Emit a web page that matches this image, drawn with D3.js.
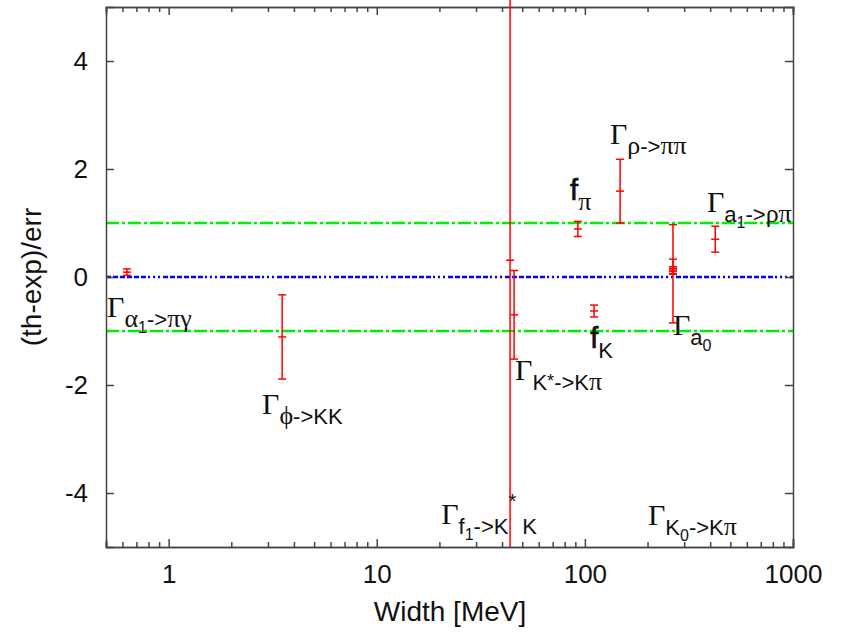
<!DOCTYPE html>
<html>
<head>
<meta charset="utf-8">
<script src="https://cdn.jsdelivr.net/npm/d3@7"></script>
<style>
  body { margin: 0; background: #fff; }
  svg { display: block; }
  .axis path, .axis line { stroke: #444; stroke-width: 1.5; }
  .axis text { font-family: "Liberation Sans", Arial, sans-serif; font-size: 26px; fill: #111; }
  .title { font-family: "Liberation Sans", Arial, sans-serif; font-size: 28px; fill: #111; }
  .note { white-space: pre; fill: #111; }
</style>
</head>
<body>
<svg id="chart"></svg>
<script>
// measurements: width [MeV] vs (th-exp)/err
const pointNames = ["a1->pi gamma", "phi->KK", "f1->K*K", "K*->K pi", "f_pi", "f_K", "rho->pi pi", "a0", "a0", "a0", "a1->rho pi"];
const widthMeV = [0.63, 3.51, 43.7, 45.7, 92.5, 110.7, 147.6, 265, 265, 265, 423];
const deviation = [0.09, -1.11, 0.31, -0.70, 0.89, -0.63, 1.59, 0.06, 0.19, 0.13, 0.70];
const errorSize = [0.06, 0.78, 12, 0.82, 0.14, 0.11, 0.59, 0.91, 0.14, 0.03, 0.24];

// reference lines
const bandLevels = [1, -1];
const zeroLevel = 0;

// annotations (gnuplot-style enhanced text) at data coordinates
const labelText = ["Γ_{α_{1}->πγ}", "Γ_{ϕ->KK}", "Γ_{f_{1}->K}^{*}_{ K}", "Γ_{K^{*}->Kπ}", "f_{π}", "f_{K}",
                   "Γ_{ρ->ππ}", "Γ_{a_{0}}", "Γ_{a_{1}->ρπ}", "Γ_{K_{0}->Kπ}"];
const labelX = [0.506, 2.81, 20.4, 46.2, 84.9, 106, 132, 265, 386, 201];
const labelY = [-0.74, -2.54, -4.57, -1.91, 1.43, -1.31, 2.46, -1.07, 1.20, -4.59];

const xTicks = [1, 10, 100, 1000];
const yTicks = [-4, -2, 0, 2, 4];

const W = 843, H = 635;
const mLeft = 106, mRight = 793, mTop = 7, mBottom = 547;

const svg = d3.select("#chart").attr("width", W).attr("height", H);

const x = d3.scaleLog().domain([0.5, 1000]).range([mLeft, mRight]);
const y = d3.scaleLinear().domain([-5, 5]).range([mBottom, mTop]);

const minorTicks = [];
[0.1, 1, 10, 100].forEach(d => {
  for (let k = 2; k <= 9; k++) {
    const v = d * k;
    if (v >= 0.5 && v <= 1000) minorTicks.push(v);
  }
});

svg.append("defs").append("clipPath").attr("id", "clip")
  .append("rect").attr("x", mLeft).attr("y", 0).attr("width", mRight - mLeft).attr("height", mBottom);

// reference lines
const lines = svg.append("g").attr("clip-path", "url(#clip)");
lines.selectAll(".band").data(bandLevels).enter().append("line")
  .attr("x1", mLeft).attr("x2", mRight)
  .attr("y1", d => y(d)).attr("y2", d => y(d))
  .attr("stroke", "#00ee00").attr("stroke-width", 2.5)
  .attr("stroke-dasharray", "13,3,3,3");
lines.append("line")
  .attr("x1", mLeft).attr("x2", mRight)
  .attr("y1", y(zeroLevel)).attr("y2", y(zeroLevel))
  .attr("stroke", "#0000ff").attr("stroke-width", 2.5)
  .attr("stroke-dasharray", "5,2,5,2,5,2,5,2,5,2,5,2,2,3,2,3,2,3");

// axes
svg.append("g").attr("class", "axis")
  .attr("transform", `translate(0,${mBottom})`)
  .call(d3.axisBottom(x).tickValues(xTicks).tickFormat(d => String(d)).tickSize(-8).tickPadding(18));
svg.append("g").attr("class", "axis")
  .attr("transform", `translate(0,${mBottom})`)
  .call(d3.axisBottom(x).tickValues(minorTicks).tickFormat("").tickSize(-5));
svg.append("g").attr("class", "axis")
  .attr("transform", `translate(0,${mTop})`)
  .call(d3.axisTop(x).tickValues(xTicks).tickFormat("").tickSize(-8));
svg.append("g").attr("class", "axis")
  .attr("transform", `translate(0,${mTop})`)
  .call(d3.axisTop(x).tickValues(minorTicks).tickFormat("").tickSize(-5));
svg.append("g").attr("class", "axis")
  .attr("transform", `translate(${mLeft},0)`)
  .call(d3.axisLeft(y).tickValues(yTicks).tickFormat(d => String(d)).tickSize(-8).tickPadding(18));
svg.append("g").attr("class", "axis")
  .attr("transform", `translate(${mRight},0)`)
  .call(d3.axisRight(y).tickValues(yTicks).tickFormat("").tickSize(-8));
svg.selectAll(".axis .domain").attr("stroke", "#444").attr("stroke-width", 1.5);

// error bars
const bars = svg.append("g").attr("clip-path", "url(#clip)")
  .attr("stroke", "#ff0000").attr("stroke-width", 1.5);
const idx = d3.range(widthMeV.length);
const cap = 4;
bars.selectAll(".v").data(idx).enter().append("line")
  .attr("x1", i => x(widthMeV[i])).attr("x2", i => x(widthMeV[i]))
  .attr("y1", i => y(deviation[i] + errorSize[i]))
  .attr("y2", i => y(deviation[i] - errorSize[i]));
[1, 0, -1].forEach(s => {
  bars.selectAll(".c" + (s + 1)).data(idx).enter().append("line")
    .attr("x1", i => x(widthMeV[i]) - cap).attr("x2", i => x(widthMeV[i]) + cap)
    .attr("y1", i => y(deviation[i] + s * errorSize[i]))
    .attr("y2", i => y(deviation[i] + s * errorSize[i]));
});

// enhanced-text parser: "_{..}" subscript, "^{..}" superscript
function parseEnh(str) {
  const out = [];
  let pos = 0;
  function walk(depth, shift, size) {
    let buf = "";
    const flush = () => { if (buf) { out.push({ t: buf, shift, size, depth }); buf = ""; } };
    while (pos < str.length) {
      const c = str[pos];
      if ((c === "_" || c === "^") && str[pos + 1] === "{") {
        flush();
        pos += 2;
        const sub = c === "_";
        let ds, ns;
        if (depth === 0) { ds = sub ? 10 : -16; ns = sub ? 22 : 20; }
        else { ds = sub ? 6 : -3; ns = sub ? 16 : 18; }
        walk(depth + 1, shift + ds, ns);
      } else if (c === "}") {
        flush(); pos++; return;
      } else { buf += c; pos++; }
    }
    flush();
  }
  walk(0, 0, null);
  return out;
}

const greekRe = /[Γαπγϕρ]+|[^Γαπγϕρ]+/g;
const notes = svg.append("g");
labelText.forEach((s, i) => {
  const t = notes.append("text").attr("class", "note")
    .attr("x", x(labelX[i])).attr("y", y(labelY[i]));
  let prev = 0;
  parseEnh(s).forEach(seg => {
    // split into runs by script so Greek goes to a serif face
    seg.t.match(greekRe).forEach(r => {
      const isGreek = /[Γαπγϕρ]/.test(r);
      let size = seg.size;
      if (size === null) size = isGreek ? 30 : 29;
      else if (isGreek) size = Math.round(size * 1.2);
      const ts = t.append("tspan")
        .attr("dy", seg.shift - prev)
        .attr("font-family", isGreek ? "'Liberation Serif', 'Times New Roman', serif" : "'Liberation Sans', Arial, sans-serif")
        .attr("font-size", size)
        .text(r);
      if (r === "f" && seg.depth === 0) ts.attr("stroke", "#111").attr("stroke-width", 0.7);
      prev = seg.shift;
    });
  });
});

// axis titles
svg.append("text").attr("class", "title")
  .attr("x", 450).attr("y", 621)
  .attr("text-anchor", "middle").text("Width [MeV]");
svg.append("text").attr("class", "title")
  .attr("transform", `translate(41,${y(0)}) rotate(-90)`)
  .attr("text-anchor", "middle").text("(th-exp)/err");
</script>
</body>
</html>
